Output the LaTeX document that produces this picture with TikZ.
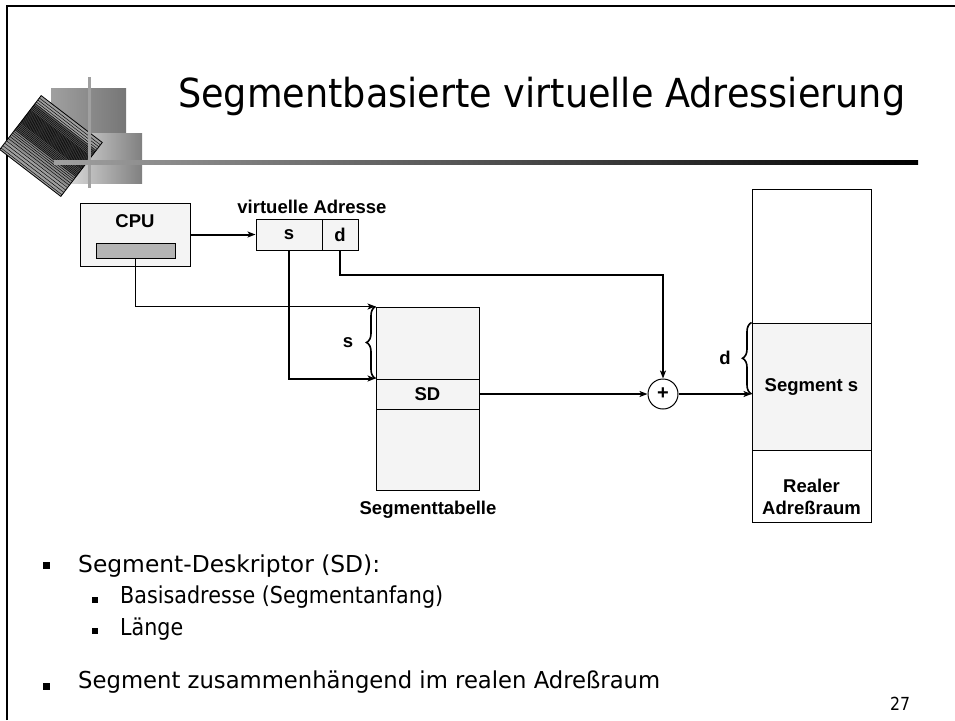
\documentclass[tikz,border=0pt]{standalone}
\usepackage{fontspec}
\setmainfont{Liberation Sans}
\newfontfamily\slidefont{DejaVu Sans}
\usepackage{graphicx}
\usetikzlibrary{arrows.meta,decorations.pathreplacing,calc}
\definecolor{boxfill}{RGB}{244,244,244}
\definecolor{barfill}{RGB}{180,180,180}
\definecolor{decogray}{RGB}{160,160,160}
\definecolor{decoA}{RGB}{118,118,118}
\definecolor{decoBl}{RGB}{238,238,238}
\definecolor{decoBr}{RGB}{128,128,128}
\newcommand\fittxt[3]{\resizebox{#2}{\height}{\slidefont\fontsize{#1}{#1}\selectfont #3}}
\begin{document}
\begin{tikzpicture}[x=1pt,y=-1pt,
  lbl/.style={font=\bfseries\fontsize{18.5pt}{22pt}\selectfont, inner sep=0},
  box/.style={draw, fill=boxfill, line width=1pt, inner sep=0, font=\bfseries\fontsize{18.5pt}{22pt}\selectfont},
  arr/.style={-{Stealth[length=8pt,width=6pt,inset=2pt]}},
  thickl/.style={line width=2pt},
  thinl/.style={line width=1pt},
  bracel/.style={line width=1.6pt, decorate, decoration={brace, amplitude=9pt}},
  bul/.style={fill=black, inner sep=0, minimum size=7},
  subbul/.style={fill=black, inner sep=0, minimum size=6},
  txt/.style={anchor=base west, inner sep=0}]
\useasboundingbox (0,0) rectangle (955,720);
\fill[white] (0,0) rectangle (955,720);
% frame
\draw[line width=2pt] (7,720) -- (7,5.5) -- (955,5.5);
% decoration
\shade[left color=decogray, right color=decoA] (51,88) rectangle (126,133);
\shade[left color=decoBl, right color=decoBr] (51,133) rectangle (142,183);
\begin{scope}[shift={(51,146)}, x={(0.793pt,-0.609pt)}, y={(-0.609pt,-0.793pt)}]
  \fill[gray!75] (-38.5,-34) -- (38.5,-34) -- (38.5,34) -- (-38.5,34) -- cycle;
  \fill[black!65] (-38.5,-24) -- (38.5,-24) -- (38.5,10) -- (-38.5,10) -- cycle;
  \fill[black!45] (-38.5,10) -- (38.5,10) -- (38.5,22) -- (-38.5,22) -- cycle;
  \foreach \v in {-31,-28.5,-26,-24,-22,-20.5,-19,-17.5,-16,-15,-14,-13,-12,-11,-10,-9,-8,-7,-6,-5,-4,-3,-2,-1,0,1.5,3,4.5,6,7.5,9,11,13,15,17.5,20,23,26,29,32}
    \draw[line width=0.45pt] (-38.5,\v) -- (38.5,\v);
  \draw[line width=0.8pt] (-38.5,-34) -- (38.5,-34) -- (38.5,34) -- (-38.5,34) -- cycle;
\end{scope}
\fill[decogray] (87.5,77) rectangle (90.5,188);
\shade[left color=decogray, right color=black] (54,160.5) rectangle (918,164);
% title
\node[txt] (title) at (178,107) {\fittxt{40pt}{727pt}{Segmentbasierte virtuelle Adressierung}};
% diagram
\node[box, minimum width=110, minimum height=63] (cpu) at (135,234.5) {};
\node[lbl] (cpulbl) at (135,221) {CPU};
\node[draw, fill=barfill, line width=1pt, minimum width=79, minimum height=15, inner sep=0] (bar) at (135.5,250.5) {};
\node[box, minimum width=66, minimum height=31] (sbox) at (289,234.5) {s};
\node[box, minimum width=36, minimum height=31] (dbox) at (340,234.5) {d};
\node[lbl] (valbl) at (312,207) {virtuelle Adresse};
\node[box, minimum width=103, minimum height=183] (tab) at (427.5,398.5) {};
\node[box, minimum width=103, minimum height=30] (sd) at (427.5,394) {SD};
\node[lbl] (tablbl) at (428,510) {Segmenttabelle};
\node[draw, circle, fill=white, line width=1pt, minimum size=30, inner sep=0, font=\bfseries\fontsize{20pt}{22pt}\selectfont] (plus) at (663,394) {+};
\node[draw, fill=white, line width=1pt, minimum width=119, minimum height=333, inner sep=0] (real) at (811.5,355.5) {};
\node[box, minimum width=119, minimum height=127] (seg) at (811.5,386.5) {Segment s};
\node[lbl, align=center] (reallbl) at (811.5,497) {Realer\\Adreßraum};
\node[lbl] (slbl) at (348,343) {s};
\node[lbl] (dlbl) at (725,358) {d};
% connectors
\draw[thickl, arr] (cpu.east) -- (sbox.west);
\draw[thinl, arr] (bar.south) |- (tab.north west);
\draw[thickl, arr] (sbox.south) |- (sd.north west);
\draw[thickl, arr] (dbox.south) -- ++(0,24) -| (plus.north);
\draw[thickl, arr] (sd.east) -- (plus.west);
\draw[thickl, arr] (plus.east) -- (plus.east -| real.west);
\draw[bracel] (sd.north west) -- (tab.north west);
\draw[bracel] (plus.east -| seg.west) -- (seg.north west);
% bullets
\node[bul] (b1) at (46.5,565.5) {};
\node[txt] (t1) at (78,572) {\fittxt{23.3pt}{302pt}{Segment-Deskriptor (SD):}};
\node[subbul] (b2) at (94.5,599.5) {};
\node[txt] (t2) at (120,603) {\fittxt{23.3pt}{323pt}{Basisadresse (Segmentanfang)}};
\node[subbul] (b3) at (94.5,631) {};
\node[txt] (t3) at (120,635) {\fittxt{23.3pt}{63pt}{Länge}};
\node[bul] (b4) at (46.5,686) {};
\node[txt] (t4) at (78,688) {\fittxt{23.3pt}{582pt}{Segment zusammenhängend im realen Adreßraum}};
\node[txt] (pg) at (890,710) {\fittxt{18pt}{20pt}{27}};
\end{tikzpicture}
\end{document}
